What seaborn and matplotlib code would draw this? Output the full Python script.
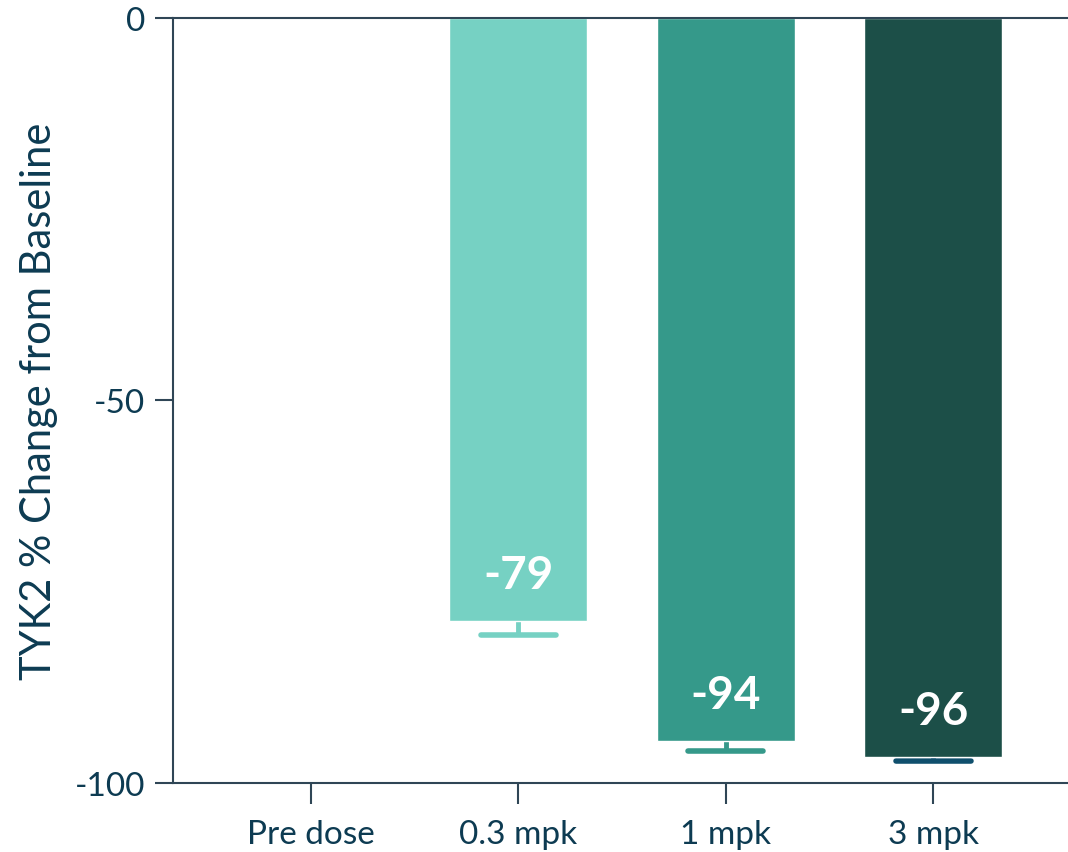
import numpy as np
import pandas as pd
import matplotlib.pyplot as plt
import seaborn as sns

doses = ["Pre dose", "0.3 mpk", "1 mpk", "3 mpk"]
means = [0.0, -78.8, -94.5, -96.6]
errs = [0.0, 1.8, 1.3, 0.5]
labels = ["", "-79", "-94", "-96"]
bar_colors = ["#76d1c3", "#76d1c3", "#35998a", "#1c4f48"]
err_colors = ["#76d1c3", "#76d1c3", "#35998a", "#0f4f6d"]

sns.set_style("ticks")
plt.rcParams['font.family'] = ['Lato', 'DejaVu Sans']
plt.rcParams['axes.unicode_minus'] = False

text_col = "#0d3b52"
axis_col = "#2f4656"

df = pd.DataFrame({"dose": doses, "mean": means})

fig = plt.figure(figsize=(10.68, 8.53), dpi=100)
ax = fig.add_axes([0.162, 0.081, 0.838, 0.8967])

sns.barplot(data=df, x="dose", y="mean", hue="dose", palette=bar_colors,
            legend=False, width=0.665, saturation=1, ax=ax, zorder=2)

# lower error bars only, drawn by hand so there is no upper cap
cap = 0.18
for i in range(1, len(doses)):
    low = means[i] - errs[i]
    ax.plot([i, i], [means[i], low], color=err_colors[i], lw=3.5,
            solid_capstyle="butt", zorder=1)
    ax.plot([i - cap, i + cap], [low, low], color=err_colors[i], lw=4,
            solid_capstyle="round", zorder=1)
    ax.text(i, means[i] + 6.0, labels[i], ha="center", va="center",
            color="white", fontsize=33, fontweight="bold")

ax.set_ylim(-100, 0)
ax.set_xlim(-0.665, 3.65)
ax.set_yticks([-100, -50, 0])
ax.set_ylabel("TYK2 % Change from Baseline", fontsize=30, color=text_col,
              labelpad=12)
ax.set_xlabel("")

for side in ["left", "bottom", "top"]:
    ax.spines[side].set_visible(True)
    ax.spines[side].set_color(axis_col)
    ax.spines[side].set_linewidth(1.5)
ax.spines["right"].set_visible(False)

ax.tick_params(axis="y", length=13, width=1.5, color=axis_col,
               labelsize=24, labelcolor=text_col, pad=7)
ax.tick_params(axis="x", length=15, width=1.5, color=axis_col,
               labelsize=24, labelcolor=text_col, pad=11)

fig.savefig("out.png", dpi=100)
